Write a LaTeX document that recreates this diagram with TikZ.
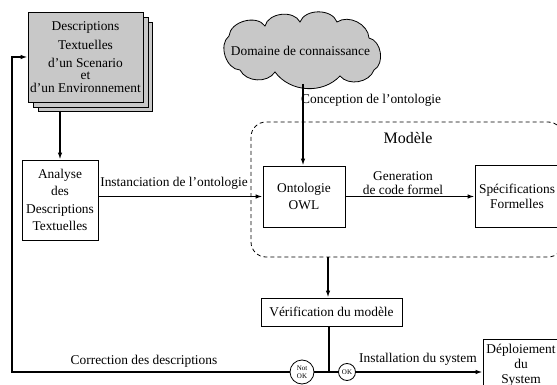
\documentclass[tikz,border=0pt]{standalone}
\usepackage{fontspec}
\setmainfont{Liberation Serif}
\usetikzlibrary{arrows.meta}
\definecolor{boxgray}{RGB}{200,200,200}
\begin{document}
\begin{tikzpicture}[x=1pt,y=-1pt,
  every node/.style={font=\fontsize{13.4}{17.5}\selectfont, inner sep=0pt, align=center},
  box/.style={draw, line width=0.8pt, fill=white},
  conn/.style={line width=1.4pt},
  arr/.style={conn,-{Latex[length=7pt,width=4.5pt]}},
  tinytxt/.style={font=\fontsize{7}{7.5}\selectfont},
  dashbox/.style={line width=0.8pt, dash pattern=on 4pt off 3pt, rounded corners=15pt}]
\useasboundingbox (0,0) rectangle (557,385);

% stacked documents
\draw[line width=0.8pt, fill=boxgray] (38,22) rectangle (152,111);
\draw[line width=0.8pt, fill=boxgray] (33,17) rectangle (148,107);
\node[box, fill=boxgray, minimum width=115pt, minimum height=90pt] (desc) at (85.5,57)
  {Descriptions\\[2pt]Textuelles\\d’un Scenario\\[-5pt]et\\[-5pt]d’un Environnement};
\coordinate (descbot) at (60,111);

% analyse
\node[box, minimum width=76pt, minimum height=80pt] (analyse) at (60,200)
  {Analyse\\des\\Descriptions\\Textuelles};
\draw[arr] (descbot) -- (analyse.north);

% cloud
\draw[line width=0.8pt, fill=boxgray] (229,36) to[bend left=70] (265,26) to[bend left=70] (300,22)
  to[bend left=70] (337,22) to[bend left=60] (369,38) to[bend left=70] (374,70)
  to[bend left=60] (340,76) to[bend left=50] (275,72) to[bend left=60] (240,70)
  to[bend left=70] (229,36) -- cycle;
\node (cloud) at (300.5,51) {Domaine de connaissance};
\coordinate (cloudbot) at (303,84);

% model dashed region
\draw[dashbox] (251,122) rectangle (563,257);
\node[font=\fontsize{16}{18}\selectfont] (modele) at (408,138) {Modèle};

\node[box, minimum width=82pt, minimum height=61pt] (onto) at (304,196.5) {Ontologie\\OWL};
\draw[arr] (cloudbot) -- (cloudbot |- onto.north);
\node[anchor=west] (conclbl) at (301,100) {Conception de l’ontologie};

\node[box, minimum width=84pt, minimum height=62pt] (spec) at (517,196.5) {Spécifications\\[-3pt]Formelles};
\draw[arr] (onto.east) -- (spec.west);
\node (genlbl) at (403,183) {Generation\\[-3pt]de code formel};

\draw[arr] (analyse.east |- onto.west) -- (onto.west);
\node (instlbl) at (174,183) {Instanciation de l’ontologie};

% verification
\node[box, minimum width=141pt, minimum height=28pt] (verif) at (331.5,312) {Vérification du modèle};
\coordinate (modbot) at (328,257);
\draw[arr] (modbot) -- (modbot |- verif.north);

% decision
\coordinate (junc) at (329,372);
\node[draw, circle, line width=0.8pt, minimum size=24pt, tinytxt] (notok) at (302,372) {Not\\OK};
\node[draw, circle, line width=0.8pt, minimum size=17pt, tinytxt] (ok) at (347,372) {OK};
\draw[conn] (verif.south -| junc) -- (junc);
\draw[conn] (junc) -- (notok.east);
\draw[conn] (junc) -- (ok.west);
\coordinate (loopL) at (12,372);
\draw[arr] (notok.west) -- (loopL) |- (desc.west);
\node (corrlbl) at (144,361) {Correction des descriptions};

% deployment
\node[box, minimum width=76pt, minimum height=52pt] (deploy) at (521,365) {Déploiement\\[-2pt]du\\[-3pt]System};
\draw[arr] (ok.east) -- (ok.east -| deploy.west);
\node (instsys) at (418,359) {Installation du system};
\end{tikzpicture}
\end{document}
